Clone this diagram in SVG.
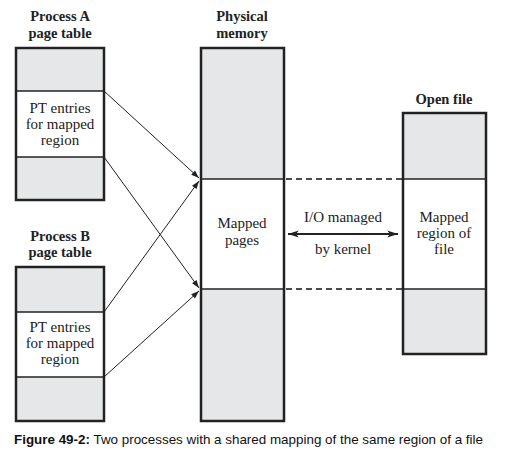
<svg xmlns="http://www.w3.org/2000/svg" width="516" height="453" viewBox="0 0 516 453">
<defs>
<style>
.t{font-family:"Liberation Serif",serif;font-size:15px;fill:#222;text-anchor:middle}
.h{font-family:"Liberation Serif",serif;font-size:14.5px;font-weight:bold;fill:#222;text-anchor:middle}
.g{fill:#e6e7e8;stroke:none}
.box{fill:none;stroke:#222;stroke-width:2.5}
.div{stroke:#222;stroke-width:1.3}
.ar{stroke:#222;stroke-width:1;fill:none}
.dash{stroke:#111;stroke-width:1.4;stroke-dasharray:6,4}
</style>
<marker id="ah" viewBox="0 0 10 10" refX="10" refY="5" markerWidth="10" markerHeight="8" markerUnits="userSpaceOnUse" orient="auto">
<path d="M0,1.5 L10,5 L0,8.5 Z" fill="#222"/>
</marker>
<marker id="ah2" viewBox="0 0 12 10" refX="12" refY="5" markerWidth="14" markerHeight="9" markerUnits="userSpaceOnUse" orient="auto-start-reverse">
<path d="M0,1 L12,5 L0,9 L3,5 Z" fill="#222"/>
</marker>
</defs>
<rect width="516" height="453" fill="#fff"/>

<g id="processA">
<text class="h" x="60" y="21">Process A</text>
<text class="h" x="60" y="38">page table</text>
<rect class="g" x="16" y="48" width="88" height="43"/>
<rect class="g" x="16" y="157" width="88" height="43"/>
<line class="div" x1="16" y1="91" x2="104" y2="91"/>
<line class="div" x1="16" y1="157" x2="104" y2="157"/>
<rect class="box" x="16" y="48" width="88" height="152"/>
<text class="t" x="60" y="113">PT entries</text>
<text class="t" x="60" y="129">for mapped</text>
<text class="t" x="60" y="145">region</text>
</g>

<g id="processB">
<text class="h" x="60" y="241">Process B</text>
<text class="h" x="60" y="257">page table</text>
<rect class="g" x="16" y="267" width="88" height="45"/>
<rect class="g" x="16" y="377" width="88" height="44"/>
<line class="div" x1="16" y1="312" x2="104" y2="312"/>
<line class="div" x1="16" y1="377" x2="104" y2="377"/>
<rect class="box" x="16" y="267" width="88" height="154"/>
<text class="t" x="60" y="332">PT entries</text>
<text class="t" x="60" y="348">for mapped</text>
<text class="t" x="60" y="364">region</text>
</g>

<g id="physical">
<text class="h" x="242" y="21">Physical</text>
<text class="h" x="242" y="38">memory</text>
<rect class="g" x="201" y="48" width="83" height="131"/>
<rect class="g" x="201" y="289" width="83" height="132"/>
<line class="div" x1="201" y1="179" x2="284" y2="179"/>
<line class="div" x1="201" y1="289" x2="284" y2="289"/>
<rect class="box" x="201" y="48" width="83" height="373"/>
<text class="t" x="242" y="228">Mapped</text>
<text class="t" x="242" y="245">pages</text>
</g>

<g id="openfile">
<text class="h" x="444" y="104">Open file</text>
<rect class="g" x="403" y="113" width="83" height="66"/>
<rect class="g" x="403" y="289" width="83" height="65"/>
<line class="div" x1="403" y1="179" x2="486" y2="179"/>
<line class="div" x1="403" y1="289" x2="486" y2="289"/>
<rect class="box" x="403" y="113" width="83" height="241"/>
<text class="t" x="444" y="222">Mapped</text>
<text class="t" x="444" y="238">region of</text>
<text class="t" x="444" y="254">file</text>
</g>

<g id="connectors">
<line class="ar" x1="104" y1="91" x2="199" y2="178" marker-end="url(#ah)"/>
<line class="ar" x1="104" y1="157" x2="199" y2="288" marker-end="url(#ah)"/>
<line class="ar" x1="104" y1="312" x2="199" y2="181" marker-end="url(#ah)"/>
<line class="ar" x1="104" y1="377" x2="199" y2="291" marker-end="url(#ah)"/>
<line class="dash" x1="286" y1="179" x2="402" y2="179"/>
<line class="dash" x1="286" y1="289" x2="402" y2="289"/>
<line stroke="#222" stroke-width="2" x1="288" y1="234" x2="398" y2="234" marker-start="url(#ah2)" marker-end="url(#ah2)"/>
<text class="t" x="343" y="222">I/O managed</text>
<text class="t" x="343" y="254">by kernel</text>
</g>

<text x="14" y="444" font-family="Liberation Sans,sans-serif" font-size="13" fill="#111" textLength="469" lengthAdjust="spacingAndGlyphs"><tspan font-weight="bold">Figure 49-2:</tspan> Two processes with a shared mapping of the same region of a file</text>
</svg>
